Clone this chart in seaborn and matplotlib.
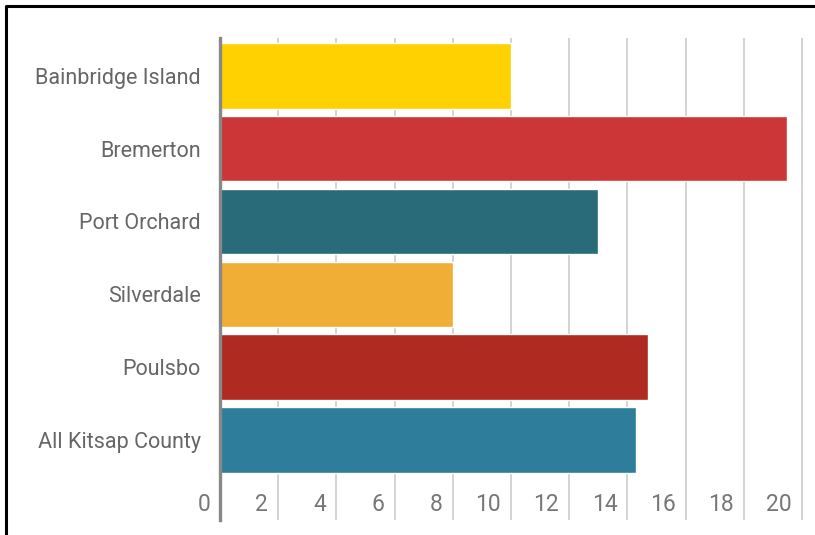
import matplotlib
matplotlib.use("Agg")
import matplotlib.pyplot as plt
import seaborn as sns
import pandas as pd
from matplotlib.lines import Line2D

categories = ["Bainbridge Island", "Bremerton", "Port Orchard", "Silverdale", "Poulsbo", "All Kitsap County"]
values = [10.0, 19.5, 13.0, 8.0, 14.7, 14.3]
colors = ["#FFD100", "#CC3636", "#296B79", "#F0AE36", "#AF2A20", "#2E7D9A"]
xticks = [0, 2, 4, 6, 8, 10, 12, 14, 16, 18, 20]

sns.set_theme(style="white")
plt.rcParams['font.family'] = ['Roboto', 'DejaVu Sans']

df = pd.DataFrame({"cat": categories, "val": values})

W, H = 815, 535
fig = plt.figure(figsize=(W / 100, H / 100), dpi=100)
ax = fig.add_axes([220 / W, 1 - 520 / H, 595 / W, 482 / H])

sns.barplot(data=df, x="val", y="cat", hue="cat", palette=colors, orient="h",
            width=0.9, legend=False, ax=ax, saturation=1, zorder=3)

ax.set_xlim(0, 20.45)
ax.set_ylim(6.1, -0.52)
ax.set_xlabel("")
ax.set_ylabel("")

for t in xticks[1:]:
    ax.axvline(t, color="#CCCCCC", lw=1.2, zorder=1)

for s in ["top", "right", "bottom"]:
    ax.spines[s].set_visible(False)
ax.spines["left"].set_color("#888888")
ax.spines["left"].set_linewidth(2.4)
ax.spines["left"].set_zorder(5)

ax.set_xticks([])
ax.tick_params(axis="y", length=0, pad=14, labelsize=15.5, labelcolor="#666666")

for t in xticks:
    ax.text(t - 0.34, 5.89, str(t), ha="right", va="center", fontsize=16.5, color="#777777")

fig.add_artist(Line2D([6 / W, 6 / W, 1.0], [0, 1 - 6 / H, 1 - 6 / H],
                      transform=fig.transFigure, color="black", lw=2.2))

fig.savefig("out.png", dpi=100)
